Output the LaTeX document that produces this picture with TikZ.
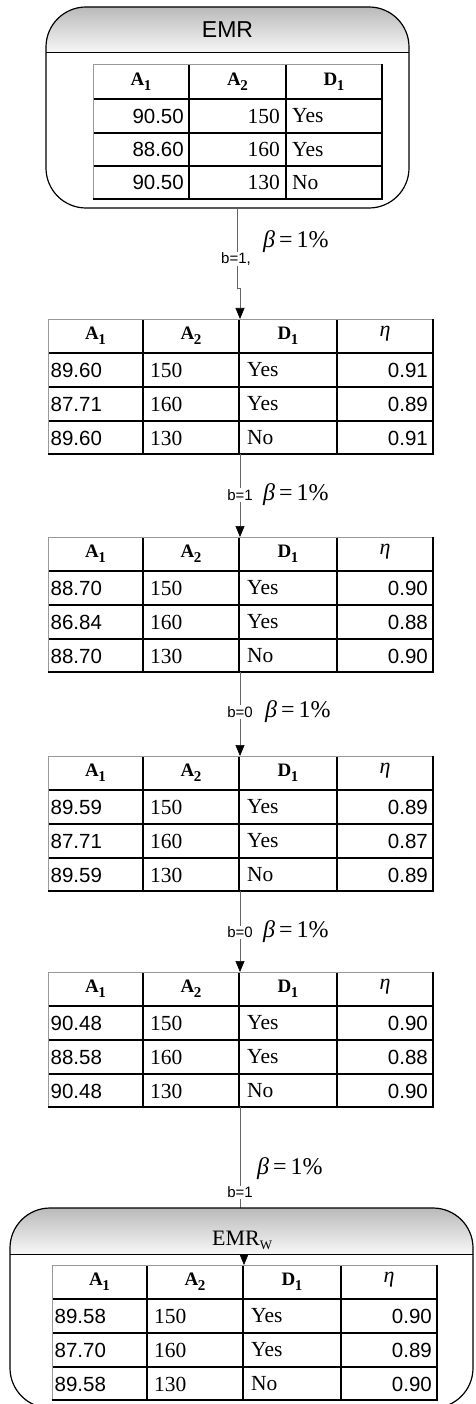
\documentclass[tikz,border=0pt]{standalone}
\usepackage{fontspec}
\setmainfont{Liberation Serif}
\newfontfamily\sansf{Liberation Sans}
\usetikzlibrary{arrows.meta}
\tikzset{
  boxline/.style={draw=black, line width=1.2pt, rounded corners=40pt},
  hdrshade/.style={top color=black!27, bottom color=black!3, draw=none},
  gridline/.style={line width=2.2pt, black},
  lightline/.style={line width=0.8pt, black!40},
  numtxt/.style={font=\sansf\fontsize{20.5}{24}\selectfont, inner sep=0pt},
  sertxt/.style={font=\fontsize{21.5}{24}\selectfont, inner sep=0pt},
  hdrtxt/.style={font=\bfseries\fontsize{19}{20}\selectfont, inner sep=0pt},
  etatxt/.style={font=\itshape\fontsize{22}{24}\selectfont, inner sep=0pt},
  lbl/.style={font=\sansf\fontsize{15}{18}\selectfont, fill=white, inner sep=1pt},
  betatxt/.style={font=\fontsize{24}{28}\selectfont, inner sep=0pt},
  conn/.style={line width=0.6pt, black!60, -{Triangle[length=11pt,width=9pt,color=black]}},
}
\newcommand\betaeq{{\itshape β}\thinspace=\thinspace1\%}
\newcommand\subA[1]{A\kern-0.5pt\raisebox{-0.28em}{\fontsize{15}{15}\selectfont #1}}
\newcommand\subD[1]{D\kern-0.5pt\raisebox{-0.28em}{\fontsize{15}{15}\selectfont #1}}
% four-column table: #1 name, #2 x, #3 y, #4 rows r/a/b/c/d
\newcommand\tabfour[4]{%
  \begin{scope}[shift={(#2,#3)}]
    \fill[white] (0,0) rectangle (385,135);
    \foreach \yy in {34,68,102} {\draw[gridline] (0,\yy) -- (385,\yy);}
    \foreach \xx in {95,191,289} {\draw[gridline] (\xx,0) -- (\xx,135);}
    \draw[lightline] (0,135) -- (0,0) -- (385,0);
    \draw[gridline] (385,0) -- (385,135) -- (0,135);
    \coordinate (#1-top) at (192,0);
    \coordinate (#1-bot) at (192,135);
    \node[hdrtxt] (#1-h1) at (47.5,17) {\subA{1}};
    \node[hdrtxt] (#1-h2) at (143,17) {\subA{2}};
    \node[hdrtxt] (#1-h3) at (240,17) {\subD{1}};
    \node[etatxt] (#1-h4) at (337,15) {η};
    \foreach \r/\a/\b/\c/\d in {#4} {
      \node[numtxt, anchor=west] (#1-\r-1) at (2.5,{17+34*\r}) {\a};
      \node[sertxt, anchor=west] (#1-\r-2) at (102,{17+34*\r}) {\b};
      \node[sertxt, anchor=west] (#1-\r-3) at (199,{17+34*\r}) {\c};
      \node[numtxt, anchor=east] (#1-\r-4) at (380,{17+34*\r}) {\d};
    }
  \end{scope}}
\begin{document}
\begin{tikzpicture}[x=1pt,y=-1pt]
\useasboundingbox (0,0) rectangle (475,1404);
\clip (0,0) rectangle (475,1404);
\fill[white] (0,0) rectangle (475,1404);

% ---------- EMR box ----------
\begin{scope}
  \clip[rounded corners=40pt] (46,7) rectangle (409,208);
  \shade[hdrshade] (46,7) rectangle (409,53);
\end{scope}
\draw[line width=1pt] (46,53) -- (409,53);
\draw[boxline] (46,7) rectangle (409,208);
\coordinate (emr-bot) at (237,208);
\node[font=\sansf\fontsize{23}{26}\selectfont, inner sep=0pt] (emr-title) at (227.5,30) {EMR};

% EMR table
\begin{scope}[shift={(93,64)}]
  \fill[white] (0,0) rectangle (289,135);
  \foreach \yy in {35,69,102} {\draw[gridline] (0,\yy) -- (289,\yy);}
  \foreach \xx in {96,193} {\draw[gridline] (\xx,0) -- (\xx,135);}
  \draw[lightline] (0,135) -- (0,0) -- (289,0);
  \draw[gridline] (289,0) -- (289,135) -- (0,135);
  \node[hdrtxt] (t1-h1) at (48,17.5) {\subA{1}};
  \node[hdrtxt] (t1-h2) at (144.5,17.5) {\subA{2}};
  \node[hdrtxt] (t1-h3) at (241,17.5) {\subD{1}};
  \foreach \r/\a/\b/\c/\yc in {1/90.50/150/Yes/52,2/88.60/160/Yes/85.5,3/90.50/130/No/118.5} {
    \node[numtxt, anchor=east] (t1-\r-1) at (91,\yc) {\a};
    \node[sertxt, anchor=east] (t1-\r-2) at (187,\yc) {\b};
    \node[sertxt, anchor=west] (t1-\r-3) at (199,\yc) {\c};
  }
\end{scope}

% ---------- tables ----------
\tabfour{t2}{48}{319}{1/89.60/150/Yes/0.91,2/87.71/160/Yes/0.89,3/89.60/130/No/0.91}
\tabfour{t3}{48}{537}{1/88.70/150/Yes/0.90,2/86.84/160/Yes/0.88,3/88.70/130/No/0.90}
\tabfour{t4}{48}{756}{1/89.59/150/Yes/0.89,2/87.71/160/Yes/0.87,3/89.59/130/No/0.89}
\tabfour{t5}{48}{972}{1/90.48/150/Yes/0.90,2/88.58/160/Yes/0.88,3/90.48/130/No/0.90}
\tabfour{t6}{52}{1265}{1/89.58/150/Yes/0.90,2/87.70/160/Yes/0.89,3/89.58/130/No/0.90}

% ---------- connectors ----------
\draw[conn] (emr-bot) -- (237,288) -- (240,288) -- (t2-top);
\node[lbl] (l1-b) at (236,259) {b=1,};
\node[betatxt, anchor=west] (l1-beta) at (263,242) {\betaeq};

\draw[conn] (t2-bot) -- (t3-top);
\node[lbl] (l2-b) at (240,495) {b=1};
\node[betatxt, anchor=west] (l2-beta) at (263,495) {\betaeq};

\draw[conn] (t3-bot) -- (t4-top);
\node[lbl] (l3-b) at (240,712) {b=0};
\node[betatxt, anchor=west] (l3-beta) at (265,712) {\betaeq};

\draw[conn] (t4-bot) -- (t5-top);
\node[lbl] (l4-b) at (240,932) {b=0};
\node[betatxt, anchor=west] (l4-beta) at (263,932) {\betaeq};

\draw[conn] (t5-bot) -- (240,1230) -- (244,1230) -- (t6-top);
\node[betatxt, anchor=west] (l5-beta) at (257,1169) {\betaeq};
\node[lbl] (l5-b) at (240,1192) {b=1};

% ---------- EMR_W box ----------
\begin{scope}
  \clip[rounded corners=40pt] (10,1208) rectangle (473,1408);
  \shade[hdrshade] (10,1208) rectangle (473,1254);
\end{scope}
\draw[line width=1pt] (10,1254) -- (473,1254);
\draw[boxline] (10,1208) rectangle (473,1408);
\node[font=\fontsize{22}{24}\selectfont, inner sep=0pt, anchor=base west] (emrw-title) at (212,1245) {EMR\raisebox{-0.2em}{\fontsize{13}{13}\selectfont W}};
\end{tikzpicture}
\end{document}
